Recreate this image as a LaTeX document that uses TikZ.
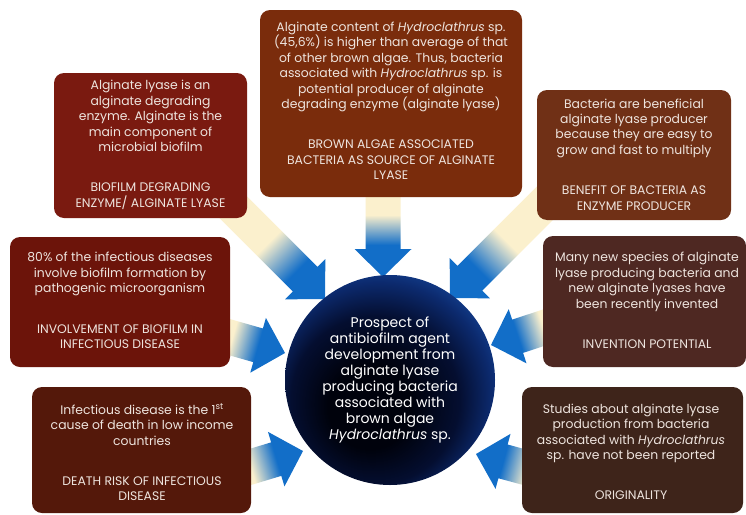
\documentclass[tikz,border=0pt]{standalone}
\usepackage{fontspec}
\setmainfont{Poppins}
\usetikzlibrary{calc}
\definecolor{acream}{RGB}{251,240,205}
\definecolor{ablue}{RGB}{18,110,200}
\definecolor{boxA}{RGB}{122,44,12}
\definecolor{boxB}{RGB}{122,26,16}
\definecolor{boxC}{RGB}{112,48,22}
\definecolor{boxD}{RGB}{108,20,10}
\definecolor{boxE}{RGB}{78,40,34}
\definecolor{boxF}{RGB}{84,24,10}
\definecolor{boxG}{RGB}{62,36,26}
\definecolor{txtc}{RGB}{238,228,222}
\definecolor{gA}{RGB}{0,2,12}
\definecolor{gB}{RGB}{4,14,48}
\definecolor{gC}{RGB}{12,42,110}
\definecolor{gD}{RGB}{24,78,165}
\pgfdeclareradialshading{globe}{\pgfqpoint{-6bp}{-8bp}}{color(0bp)=(gA); color(10bp)=(gA); color(20bp)=(gB); color(27bp)=(gC); color(33bp)=(gD); color(50bp)=(gD)}
\makeatletter
\newcommand\fatarrow[5]{%
  \pgfpointanchor{#2}{center}\edef\fa@tx{\the\pgf@x}\edef\fa@ty{\the\pgf@y}%
  \pgfpointanchor{#3}{center}\edef\fa@hx{\the\pgf@x}\edef\fa@hy{\the\pgf@y}%
  \pgfmathsetmacro\fa@ang{atan2((\fa@hy)-(\fa@ty),(\fa@hx)-(\fa@tx))}%
  \pgfmathsetmacro\fa@len{veclen((\fa@hx)-(\fa@tx),(\fa@hy)-(\fa@ty))}%
  \pgfmathsetmacro\fa@sa{25+50*(\fa@len-#4)/\fa@len}%
  \pgfmathsetmacro\fa@sb{25+50*(\fa@len-#5)/\fa@len}%
  \edef\fa@do{\noexpand\pgfdeclarehorizontalshading{#1}{100bp}{color(0bp)=(acream); color(\fa@sa bp)=(acream); color(\fa@sb bp)=(ablue); color(100bp)=(ablue)}}%
  \fa@do
  \begin{scope}[transform canvas={shift={(\fa@hx,\fa@hy)},rotate=\fa@ang}]
    \shade[shading=#1] (0pt,0pt) -- (-28pt,28.5pt) -- (-28pt,17.5pt) -- (-\fa@len pt,17.5pt) -- (-\fa@len pt,-17.5pt) -- (-28pt,-17.5pt) -- (-28pt,-28.5pt) -- cycle;
  \end{scope}%
}
\makeatother
\tikzset{
  card/.style={rounded corners=10pt, inner sep=0pt, draw=none},
  txt/.style={text=txtc, align=center, inner sep=0pt, font=\fontsize{12.4}{15.4}\selectfont},
  hubstyle/.style={circle, minimum size=210pt, inner sep=0pt, shading=globe, text=white, align=center, font=\fontsize{14}{16}\selectfont}
}
\begin{document}
\begin{tikzpicture}[x=1pt,y=-1pt]
\useasboundingbox (0,0) rectangle (746,514);
\fill[white] (0,0) rectangle (746,514);
\clip (0,0) rectangle (746,514);
% arrow end points
\coordinate (tailA) at (383,190);  \coordinate (tipA) at (383,277);
\coordinate (tailB) at (212,186);  \coordinate (tipB) at (325,299);
\coordinate (tailC) at (563,185);  \coordinate (tipC) at (450,298);
\coordinate (tailD) at (208,331);  \coordinate (tipD) at (285,353);
\coordinate (tailE) at (567,320);  \coordinate (tipE) at (491,345);
\coordinate (tailF) at (227,474);  \coordinate (tipF) at (303,451);
\coordinate (tailG) at (553,475);  \coordinate (tipG) at (476,454);
\fatarrow{arrA}{tailA}{tipA}{62}{32}
\fatarrow{arrB}{tailB}{tipB}{80}{40}
\fatarrow{arrC}{tailC}{tipC}{80}{40}
\fatarrow{arrD}{tailD}{tipD}{55}{28}
\fatarrow{arrE}{tailE}{tipE}{55}{28}
\fatarrow{arrF}{tailF}{tipF}{55}{28}
\fatarrow{arrG}{tailG}{tipG}{55}{28}
% boxes
\node[card, fill=boxA, minimum width=262pt, minimum height=187pt] (bA) at (391,103.5) {};
\node[card, fill=boxB, minimum width=193pt, minimum height=145pt] (bB) at (150.5,145.5) {};
\node[card, fill=boxC, minimum width=194pt, minimum height=130pt] (bC) at (634,155) {};
\node[card, fill=boxD, minimum width=220pt, minimum height=130pt] (bD) at (120,302) {};
\node[card, fill=boxE, minimum width=203pt, minimum height=131pt] (bE) at (644.5,301.5) {};
\node[card, fill=boxF, minimum width=219pt, minimum height=126pt] (bF) at (141.5,450) {};
\node[card, fill=boxG, minimum width=221pt, minimum height=126pt] (bG) at (632.5,450) {};
% texts
\node[txt] (tA) at (391,101) {Alginate content of \textit{Hydroclathrus} sp.\\(45,6\%) is higher than average of that\\of other brown algae. Thus, bacteria\\associated with \textit{Hydroclathrus} sp. is\\potential producer of alginate\\degrading enzyme (alginate lyase)\\[25pt]BROWN ALGAE ASSOCIATED\\BACTERIA AS SOURCE OF ALGINATE\\LYASE};
\node[txt] (tB) at (150.5,145) {Alginate lyase is an\\alginate degrading\\enzyme. Alginate is the\\main component of\\microbial biofilm\\[25pt]BIOFILM DEGRADING\\ENZYME/ ALGINATE LYASE};
\node[txt] (tC) at (634,154.5) {Bacteria are beneficial\\alginate lyase producer\\because they are easy to\\grow and fast to multiply\\[25pt]BENEFIT OF BACTERIA AS\\ENZYME PRODUCER};
\node[txt] (tD) at (120,300.5) {80\% of the infectious diseases\\involve biofilm formation by\\pathogenic microorganism\\[25pt]INVOLVEMENT OF BIOFILM IN\\INFECTIOUS DISEASE};
\node[txt] (tE) at (647,300.5) {Many new species of alginate\\lyase producing bacteria and\\new alginate lyases have\\been recently invented\\[25pt]INVENTION POTENTIAL};
\node[txt] (tF) at (142,452.5) {Infectious disease is the 1\textsuperscript{st}\\cause of death in low income\\countries\\[25pt]DEATH RISK OF INFECTIOUS\\DISEASE};
\node[txt] (tG) at (631,452) {Studies about alginate lyase\\production from bacteria\\associated with \textit{Hydroclathrus}\\sp. have not been reported\\[25pt]ORIGINALITY};
% hub
\node[hubstyle] (hub) at (390,380) {Prospect of\\antibiofilm agent\\development from\\alginate lyase\\producing bacteria\\associated with\\brown algae\\\textit{Hydroclathrus} sp.};
\end{tikzpicture}
\end{document}
